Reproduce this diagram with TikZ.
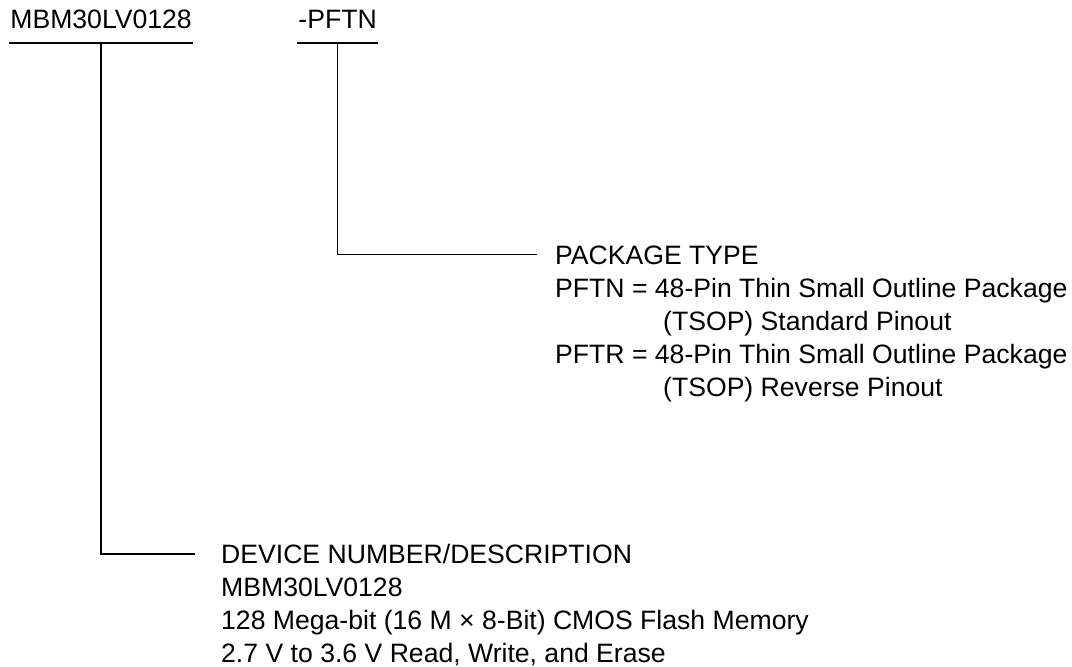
\documentclass[tikz,border=0pt]{standalone}
\usepackage{fontspec}
\setmainfont{Liberation Sans}
\usetikzlibrary{positioning}

\begin{document}
\begin{tikzpicture}[x=1pt, y=-1pt,
  partno/.style={font=\fontsize{26.6}{33}\selectfont, inner xsep=1.2pt, inner ysep=0pt,
                 text height=19pt, text depth=14pt, anchor=base west},
  title/.style={font=\fontsize{26.6}{33}\selectfont, inner sep=0pt,
                text height=19pt, text depth=0pt, anchor=base west},
  body/.style={font=\fontsize{26.6}{33}\selectfont, inner sep=0pt, align=left},
  lead/.style={line width=1.6pt},
]
  \useasboundingbox (0,0) rectangle (1072,667);

  % Part number fields
  \node[partno] (devnum) at (9,28.5) {MBM30LV0128};
  \node[partno] (pkg) at (297,28.5) {-PFTN};
  \draw[lead] (devnum.south west) -- (devnum.south east);
  \draw[lead] (pkg.south west) -- (pkg.south east);

  % Package type
  \node[title] (pkgtitle) at (555,264) {PACKAGE TYPE};
  \node[body, below right=14pt and 0pt of pkgtitle.south west] (pkgbody) {
    PFTN = 48-Pin Thin Small Outline Package\\
    \hspace*{108pt}(TSOP) Standard Pinout\\
    PFTR = 48-Pin Thin Small Outline Package\\
    \hspace*{108pt}(TSOP) Reverse Pinout
  };

  % Device number
  \node[title] (devtitle) at (221,563.5) {DEVICE NUMBER/DESCRIPTION};
  \node[body, below right=14pt and 0pt of devtitle.south west] (devbody) {
    MBM30LV0128\\
    128 Mega-bit (16 M × 8-Bit) CMOS Flash Memory\\
    2.7 V to 3.6 V Read, Write, and Erase
  };

  % Leads
  \draw[lead, shorten >=18pt] (pkg.south) |- (pkgtitle.west);
  \draw[lead, shorten >=26pt] (devnum.south) |- (devtitle.west);
\end{tikzpicture}
\end{document}
